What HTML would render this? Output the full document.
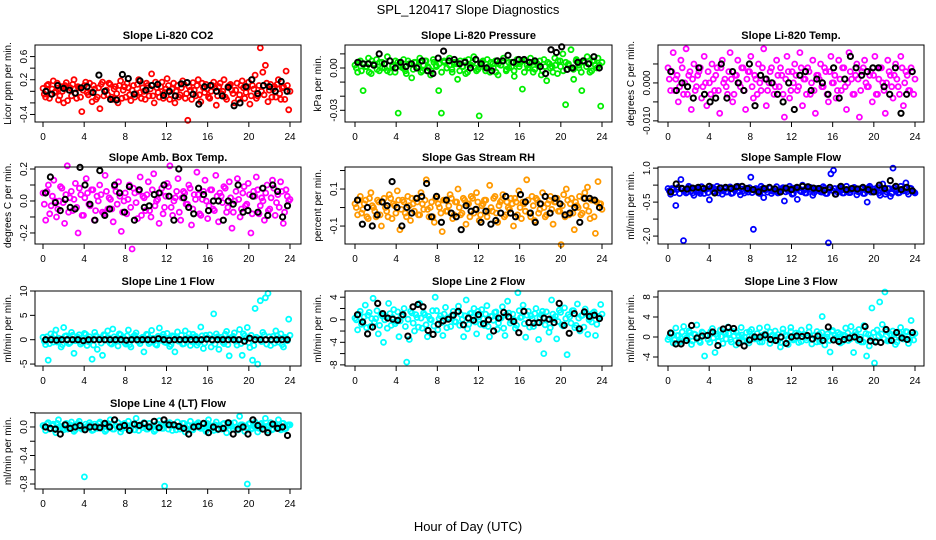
<!DOCTYPE html>
<html><head><meta charset="utf-8"><style>
html,body{margin:0;padding:0;background:#fff;}
svg{display:block;font-family:"Liberation Sans",Arial,sans-serif;}
</style></head><body>
<svg id="chart" width="936" height="540" viewBox="0 0 936 540">
<text x="468" y="14" text-anchor="middle" font-size="13">SPL_120417  Slope Diagnostics</text>
<text x="468" y="531" text-anchor="middle" font-size="13">Hour of Day (UTC)</text>
</svg>
<script>
const xTicks = [0,4,8,12,16,20,24];
const co2Vals = [0.05,-0.1,0.12,-0.05,0.18,0.0,-0.15,0.08,-0.2,0.15,0.02,-0.08,0.2,-0.12,0.06,-0.35,0.1,-0.02,0.14,-0.18,0.04,-0.1,-0.3,0.16,0.0,-0.06,0.12,-0.14,0.08,-0.2,0.18,0.02,-0.1,0.06,-0.16,0.1,-0.04,0.2,-0.12,0.0,0.14,-0.08,0.3,-0.2,0.06,-0.1,0.16,-0.02,0.22,-0.14,0.04,-0.2,0.1,-0.06,0.18,-0.12,-0.5,0.02,0.15,-0.08,0.2,-0.18,0.06,0.12,-0.1,0.0,0.16,-0.24,0.08,-0.04,0.2,-0.14,0.1,0.02,-0.2,0.14,-0.06,0.18,-0.12,0.06,-0.22,0.1,0.28,-0.08,0.75,0.33,0.45,-0.18,0.12,0.04,-0.1,0.2,-0.14,0.08,0.35,-0.32];
const co2Vals2 = [-0.05,0.1,-0.12,0.04,-0.02,0.14,-0.08,0.0,0.1,-0.16,0.06,0.12,-0.04,0.08,-0.1,0.02,0.16,-0.06,-0.02,0.1,-0.14,0.06,0.12,-0.08,0.02,0.14,-0.1,0.04,-0.04,0.1,-0.12,0.08,0.14,-0.06,0.02,-0.1,0.12,-0.02,0.06,-0.14,0.1,0.04,-0.08,0.16,-0.02,0.08,-0.12,0.04,0.1,-0.06,0.14,0.0,-0.1,0.06,0.12,-0.04,0.08,-0.14,0.02,0.1,-0.06,0.14,-0.02,0.04,-0.12,0.1,0.06,-0.08,0.14,0.0,-0.1,0.08,0.12,-0.04,0.02,-0.14,0.1,0.06,-0.02,0.16,-0.08,0.04,-0.12,0.1,0.0,-0.06,0.14,0.02,-0.1,0.08,0.12,-0.04,0.06,-0.14,0.1,0.0];
const co2Ref = [0.0,-0.05,0.1,0.05,0.02,-0.03,0.06,0.08,-0.02,0.28,0.0,-0.14,-0.15,0.29,0.22,-0.05,0.18,0.02,0.1,0.12,-0.07,0.0,-0.08,0.13,0.15,-0.05,-0.22,0.08,0.1,0.0,-0.08,0.07,-0.25,-0.2,0.08,0.2,-0.04,0.1,0.08,0.0,0.17,0.0];
const presVals = [0.002,-0.003,0.005,-0.016,0.001,0.007,-0.004,0.003,0.006,-0.002,0.004,0.0,0.008,-0.003,0.002,0.005,-0.032,0.001,0.006,-0.004,0.003,-0.007,0.004,0.0,0.007,-0.002,0.005,0.001,-0.005,0.006,0.002,-0.016,-0.032,0.004,0.0,0.007,-0.003,0.003,-0.008,0.005,0.001,-0.004,0.006,0.002,0.008,-0.002,-0.034,0.004,0.0,0.006,-0.003,0.003,0.005,-0.005,0.002,0.007,-0.002,0.004,0.001,-0.006,0.006,0.003,-0.015,0.005,0.0,0.007,-0.003,0.004,0.002,-0.005,0.006,-0.009,0.003,0.001,0.007,-0.004,0.005,0.01,-0.026,0.002,0.013,-0.008,0.006,0.0,-0.016,0.004,0.008,-0.003,0.005,0.002,0.007,-0.027];
const presVals2 = [0.0,0.004,-0.002,0.003,0.001,-0.003,0.005,0.002,-0.001,0.004,0.0,0.003,-0.002,0.005,0.001,-0.003,0.004,0.002,0.0,-0.002,0.005,0.003,-0.001,0.004,0.001,-0.003,0.002,0.005,0.0,-0.002,0.004,0.001,0.003,-0.003,0.005,0.0,0.002,-0.001,0.004,0.003,-0.002,0.001,0.005,-0.003,0.002,0.004,0.0,-0.001,0.003,0.005,-0.002,0.001,0.004,0.0,-0.003,0.003,0.002,0.005,-0.001,0.0,0.004,-0.002,0.003,0.001,0.005,-0.003,0.002,0.0,0.004,-0.001,0.003,0.005,-0.002,0.001,0.004,0.0,-0.003,0.002,0.005,0.001,-0.002,0.004,0.003,0.0,-0.001,0.005,0.002,-0.003,0.004,0.001,0.003,-0.002,0.005,0.0,0.002,0.004];
const presRef = [0.004,0.003,0.003,0.002,0.01,0.003,0.005,0.0,0.004,0.001,0.003,0.0,0.005,-0.002,-0.004,0.007,0.012,0.005,0.006,0.003,0.004,0.0,0.006,0.003,0.0,-0.002,0.005,0.005,0.009,0.004,0.006,0.006,0.004,0.005,0.001,-0.004,0.013,0.011,0.015,-0.001,0.0,0.004,0.005,0.003,0.008,0.0];
const tempVals = [0.004,-0.002,0.008,0.001,-0.005,0.006,-0.003,0.009,0.002,-0.007,0.005,-0.001,0.003,-0.004,0.007,-0.006,0.0,0.005,-0.002,0.004,-0.008,0.006,0.001,-0.003,0.008,-0.005,0.002,0.006,-0.001,0.004,-0.007,0.003,0.007,-0.004,0.001,0.005,-0.002,0.009,-0.006,0.0,0.004,-0.003,0.006,-0.001,0.002,-0.009,0.007,-0.004,0.003,0.005,-0.002,0.008,-0.006,0.001,0.004,-0.003,0.006,-0.008,0.002,0.005,-0.001,0.003,-0.005,0.007,0.0,-0.004,0.006,-0.002,0.004,-0.007,0.008,0.001,-0.003,0.005,-0.009,0.003,0.006,-0.001,0.002,-0.005,0.007,-0.003,0.004,0.0,-0.008,0.006,0.002,-0.004,0.005,-0.001,0.007,-0.006,0.003,-0.002,0.004,-0.003];
const tempVals2 = [0.001,0.003,-0.002,0.002,-0.001,0.004,0.0,-0.003,0.003,0.001,-0.002,0.002,0.004,-0.001,0.0,0.003,-0.003,0.001,0.002,-0.002,0.004,0.0,-0.001,0.003,0.001,-0.003,0.002,0.0,0.004,-0.002,0.001,0.003,-0.001,0.002,-0.003,0.0,0.004,0.001,-0.002,0.003,0.0,-0.001,0.002,0.004,-0.003,0.001,0.003,-0.002,0.0,0.002,-0.001,0.004,0.001,-0.003,0.003,0.0,-0.002,0.002,0.001,-0.001,0.004,-0.003,0.003,0.0,0.002,-0.002,0.001,0.004,-0.001,0.0,0.003,-0.003,0.002,0.001,-0.002,0.004,0.0,-0.001,0.003,0.002,-0.003,0.001,0.004,-0.002,0.0,0.003,-0.001,0.002,0.001,-0.003,0.004,0.0,0.002,-0.002,0.003,0.001];
const tempRef = [0.003,-0.002,0.0,-0.001,-0.004,0.004,-0.003,-0.005,-0.004,0.005,-0.004,0.003,0.0,-0.002,0.005,-0.006,0.002,0.001,0.0,-0.003,-0.005,0.0,-0.007,0.002,0.003,-0.002,0.001,0.0,-0.003,0.004,-0.004,0.001,0.007,0.004,0.002,0.003,0.004,0.004,-0.001,-0.003,0.004,-0.008,-0.003,0.003];
const boxVals = [0.05,-0.12,0.1,-0.03,0.13,-0.1,0.0,0.08,-0.14,0.22,0.02,-0.06,0.11,-0.2,0.04,-0.09,0.14,-0.02,0.07,-0.12,0.03,0.1,-0.07,0.16,-0.05,0.01,-0.13,0.06,0.12,-0.19,0.0,-0.08,0.1,-0.3,0.05,-0.11,0.15,0.03,-0.06,0.12,-0.1,0.17,0.0,-0.14,0.08,-0.04,0.11,0.22,-0.09,0.02,0.14,-0.12,0.06,-0.02,0.1,-0.15,0.04,0.18,-0.08,0.01,0.13,-0.11,0.07,-0.05,0.16,-0.13,0.03,0.09,-0.07,0.12,-0.17,0.0,0.14,-0.1,0.05,-0.03,0.11,-0.2,0.06,0.15,-0.08,0.02,-0.12,0.1,-0.05,0.13,-0.09,0.04,0.12,-0.14,0.07,0.0];
const boxVals2 = [-0.02,0.06,-0.08,0.03,0.0,-0.05,0.09,-0.01,0.04,-0.07,0.06,0.01,-0.04,0.08,-0.09,0.02,0.05,-0.03,0.07,-0.06,0.0,0.04,-0.08,0.06,0.02,-0.05,0.09,-0.02,0.03,-0.07,0.05,0.01,-0.04,0.08,-0.01,0.06,-0.09,0.02,0.04,-0.06,0.07,-0.03,0.01,0.05,-0.08,0.03,0.09,-0.04,0.0,0.06,-0.07,0.02,0.05,-0.02,0.08,-0.05,0.01,0.04,-0.09,0.06,0.0,-0.03,0.07,-0.06,0.03,0.05,-0.01,0.08,-0.04,0.02,-0.07,0.06,0.01,-0.05,0.09,-0.02,0.04,-0.08,0.03,0.07,-0.03,0.0,0.05,-0.06,0.02,0.08,-0.01,-0.04,0.06,-0.07,0.03,0.01];
const boxRef = [0.05,0.15,-0.01,-0.06,0.01,-0.04,-0.05,0.21,0.1,-0.02,-0.12,0.19,-0.09,-0.05,0.1,0.05,-0.07,0.09,-0.12,0.07,-0.04,-0.03,0.04,0.05,0.1,0.03,-0.12,0.2,0.02,-0.04,-0.08,0.08,0.04,-0.06,0.0,0.0,-0.12,0.0,-0.02,0.1,-0.07,-0.06,0.03,-0.07,0.08,-0.09,0.1,0.06,-0.1,-0.03];
const rhVals = [0.02,-0.04,0.06,-0.01,0.04,-0.06,0.08,0.0,-0.05,0.03,-0.1,0.05,-0.02,0.07,-0.06,0.01,0.09,-0.12,0.04,-0.03,0.06,-0.07,0.02,0.05,-0.04,0.08,-0.01,0.15,-0.05,0.03,-0.08,0.06,0.0,-0.13,0.04,-0.02,0.07,-0.06,0.03,0.1,-0.04,0.05,-0.09,0.02,0.06,-0.03,0.08,-0.07,0.01,0.04,-0.05,0.12,-0.02,0.06,-0.08,0.03,0.07,-0.04,0.0,0.05,-0.1,0.03,0.09,-0.06,0.02,0.15,-0.03,0.06,-0.07,0.04,-0.01,0.08,-0.05,0.02,0.06,-0.09,0.03,-0.02,-0.2,0.07,0.1,-0.04,0.05,-0.12,0.01,0.06,-0.03,0.08,0.11,-0.06,0.04,-0.14,0.14,0.02];
const rhVals2 = [0.0,0.04,-0.03,0.02,-0.05,0.05,0.01,-0.02,0.04,-0.04,0.03,0.0,-0.05,0.05,0.02,-0.03,0.04,-0.01,0.03,-0.05,0.01,0.05,-0.02,0.03,-0.04,0.02,0.04,-0.01,0.0,-0.05,0.05,0.02,-0.03,0.04,-0.02,0.01,0.05,-0.04,0.03,0.0,-0.03,0.04,0.02,-0.05,0.05,-0.01,0.03,-0.04,0.02,0.04,-0.02,0.0,0.05,-0.03,0.01,0.04,-0.05,0.03,-0.01,0.02,0.05,-0.04,0.0,0.03,-0.02,0.04,-0.05,0.01,0.05,-0.03,0.02,0.0,-0.04,0.04,-0.01,0.03,0.05,-0.02,0.01,-0.05,0.04,0.02,-0.03,0.03,0.0,-0.04,0.05,0.01,-0.02,0.04,-0.05,0.03,0.02,-0.01];
const rhRef = [0.04,-0.09,0.0,-0.1,-0.04,0.03,0.01,0.14,0.0,-0.1,0.0,-0.03,0.05,0.06,0.13,-0.05,0.06,-0.08,0.04,-0.03,-0.05,-0.12,0.01,-0.02,-0.01,-0.08,-0.02,-0.09,-0.07,-0.03,0.06,-0.03,-0.05,0.07,0.03,-0.03,-0.08,0.02,0.06,-0.03,0.05,0.02,-0.04,-0.03,0.0,-0.08,0.05,0.05,0.04,0.0];
const flowVals = [0.1,-0.15,0.05,-0.65,0.15,0.5,-2.2,-0.1,0.2,0.0,-0.2,0.12,-0.05,0.18,-0.12,0.08,-0.4,0.15,-0.08,0.2,0.02,-0.15,0.1,-0.05,0.17,-0.1,0.05,0.2,-0.18,0.0,0.12,-0.06,0.6,-1.7,0.1,-0.1,0.2,-0.3,0.05,0.15,-0.12,0.0,0.18,-0.08,0.1,-0.45,0.05,0.2,-0.15,0.12,-0.38,0.0,0.25,-0.1,0.08,0.15,-0.2,0.05,0.1,-0.05,0.18,-0.12,-2.3,0.75,0.9,-0.15,0.12,0.02,-0.1,0.2,-0.08,0.05,0.15,-0.18,0.0,0.1,-0.12,-0.5,0.2,-0.05,0.08,0.15,-0.2,0.3,-0.15,0.1,-0.25,1.0,0.05,-0.1,0.2,0.0,0.35,-0.15,0.1,-0.05];
const flowVals2 = [0.0,0.1,-0.08,0.05,-0.12,0.12,0.02,-0.05,0.15,-0.1,0.08,0.0,-0.12,0.1,0.05,-0.08,0.12,-0.02,0.06,-0.1,0.14,0.0,-0.06,0.1,-0.12,0.05,0.12,-0.04,0.08,-0.1,0.02,0.14,-0.08,0.06,0.0,-0.12,0.1,0.04,-0.06,0.12,-0.02,0.08,-0.1,0.05,0.14,-0.05,0.0,0.1,-0.12,0.06,0.12,-0.04,0.02,-0.1,0.14,0.05,-0.08,0.1,0.0,-0.06,0.12,-0.12,0.06,0.02,0.1,-0.05,0.14,-0.1,0.04,0.0,-0.08,0.12,0.06,-0.04,0.1,-0.12,0.02,0.14,-0.06,0.08,0.0,-0.1,0.12,0.05,-0.05,0.1,-0.12,0.14,0.02,-0.08,0.06,0.1,-0.04,0.12,0.0,-0.1];
const flowRef = [-0.05,0.3,0.1,0.08,0.12,0.15,0.1,0.2,-0.1,0.12,0.15,0.1,0.18,0.2,0.1,0.05,-0.05,0.1,0.15,0.08,-0.05,0.12,0.05,0.15,0.2,0.18,0.12,0.1,0.02,0.15,-0.15,0.2,0.05,0.1,0.08,0.15,0.05,-0.05,0.25,0.1,0.45,0.2,0.05,0.15,0.0];
const line1Vals = [0.5,-1,-4.2,1.2,-0.5,2,0.3,-1.5,2.5,0.8,-0.8,1.5,-2.8,0.2,1,-0.6,1.3,-1.2,0.6,-4,1.5,-2,0.4,-3.2,0.9,1.8,-0.7,2.2,0.1,-1.3,1,0.5,-0.9,2,-1.5,0.7,1.4,-0.4,0.3,-2.5,1.1,-0.8,1.9,0.2,-1.1,2.4,0.6,-0.5,1.3,-1.4,0.8,-2.5,1.6,0,-0.9,1.8,0.4,-1.2,1.1,0.7,-0.6,2.6,-1.8,0.9,0.3,-1.5,5.3,1.2,-2,0.5,-0.8,1.7,-3.3,0.2,1.4,-1.1,2.1,-3.2,0.8,2.5,-1.6,-4.2,6.4,-5,8,1.5,8.6,9.5,-1.2,0.7,1.8,-0.5,1.2,-1.5,0.3,4.2];
const line1Vals2 = [-0.3,0.6,-0.8,0.4,1.0,-0.5,0.2,-1.0,0.7,0.0,-0.6,0.9,-0.2,0.5,-0.9,0.3,1.1,-0.4,0.0,-1.1,0.8,0.2,-0.7,1.0,-0.1,0.4,-0.9,0.6,-0.3,1.2,0.1,-0.6,0.8,-1.0,0.3,0.9,-0.2,-0.8,0.5,0.0,1.0,-0.5,0.3,-0.9,0.7,-0.1,1.1,-0.6,0.2,-1.0,0.6,0.4,-0.3,0.9,-0.8,0.1,1.2,-0.4,0.5,-1.1,0.0,0.8,-0.7,0.3,1.0,-0.2,-0.9,0.6,0.1,-0.5,1.1,-1.0,0.4,0.7,-0.3,0.0,-0.8,1.2,0.3,-0.6,0.9,-1.2,0.5,0.2,-0.4,1.0,-0.9,0.6,0.0,-0.7,0.8,0.3,-1.0,0.5,-0.2,0.9];
const line1Ref = [0,0,-0.1,0,0,0,0,-0.2,0,0,0,0,0,0,0,-0.1,0,0,0,0,0,0.2,0,-0.1,0,0,0,0,0,0,0.1,0,0,0,0,0,0,-0.3,0.3,0,0,0,0,0,0,0];
const line2Vals = [0.3,-1.8,1.5,-0.5,2.6,0.8,-1.2,3.8,0.2,-2.5,1,-4,0.5,2.9,-1,1.8,-0.3,-3,0.6,2,-7.5,-3.5,1.2,-2,0.4,2.9,-1.5,0.9,-3,0.1,1.6,4,-1.8,0.7,-2.8,2.2,0.3,-1.2,1.5,-0.4,2.4,0.9,-3,3.5,-0.8,1.2,2,-2.5,0.5,1.8,-1,2.5,-3,0.6,1.3,-1.7,0.2,2.3,-2.8,3.3,-0.6,1,-1.5,4.8,0.4,2.6,-3.1,1.5,0.7,-1.2,2,-3.5,0.9,-6,1.4,-2.2,3.5,0.1,-3.4,1.7,-0.9,2.1,-6.2,0.5,1.6,-1.4,2.8,-2,0.8,1.9,-2.6,0.3,1.2,-2.8,0.6,2.7];
const line2Vals2 = [0.0,1.0,-0.8,0.5,-1.4,1.3,0.2,-0.4,1.6,-1.0,0.7,0.0,-1.5,1.1,0.4,-0.7,1.4,-0.2,0.8,-1.2,0.1,1.5,-0.6,0.9,-1.3,0.3,1.2,-0.9,0.6,0.0,-1.1,1.6,0.2,-0.5,1.0,-1.4,0.4,0.8,-0.3,1.3,-1.0,0.1,0.7,-1.6,1.1,0.5,-0.4,1.5,-0.8,0.2,1.0,-1.2,0.6,-0.1,1.4,-0.6,0.3,-1.5,0.9,1.2,-0.2,0.0,-1.0,1.6,0.5,-0.7,0.8,-1.3,0.2,1.1,-0.5,0.4,1.5,-0.9,0.0,-1.4,1.0,0.6,-0.3,1.3,-1.1,0.2,0.9,-0.6,1.6,-1.0,0.3,0.7,-1.3,1.2,0.0,-0.4,1.4,-0.8,0.5,1.0];
const line2Ref = [0.9,-0.4,-2.5,-1.3,2.9,1.1,0.3,0.1,-0.1,0.9,-2.9,2.3,2.7,2.3,-1.9,-2.6,-0.8,-0.2,0.1,0.8,1.5,-0.9,0.3,-0.1,0.9,-0.7,0,-2,0.3,1.3,0.5,-0.3,-2.3,1.5,-0.5,-0.6,-0.5,0.3,0.1,-0.5,2.9,-1,-2.4,1.1,-1.6,1.4,0.6,0.8,0.2];
const line3Vals = [-0.5,0.8,-1.2,1.8,0.3,-0.9,2.1,-0.2,1.2,-1.5,0.6,2.4,-0.8,1,-3.8,0.4,-1.1,1.7,-3.1,0.2,1.4,-1.3,0.7,2,-0.5,1.1,-1.6,0.3,1.9,-0.7,0.9,-1.2,1.5,0.1,-0.4,1.8,-1,0.6,2,-1.3,0.4,1.2,-0.8,-2,1.6,0.2,-1.5,1.9,-0.3,0.8,-1.1,1.4,0.5,-0.6,2,-1.4,0.3,1.1,-0.9,4.1,-1.6,0.6,-3,1.3,-0.2,0.9,-1.2,0.4,1.8,-0.7,2.1,-3.1,0.5,1.5,-1,2.3,-3.8,-1.8,5.8,-5.2,1.4,7,2.5,9,-0.8,0.6,1.2,-1.5,0.3,1.9,-0.4,1.1,-1.3,3.3,-0.6];
const line3Vals2 = [0.0,0.7,-0.6,0.3,-1.0,1.0,0.2,-0.3,0.9,-0.8,0.5,0.0,-1.1,0.8,0.3,-0.5,1.1,-0.2,0.6,-0.9,0.1,1.0,-0.4,0.7,-1.0,0.2,0.9,-0.7,0.4,0.0,-0.8,1.1,0.2,-0.4,0.7,-1.0,0.3,0.6,-0.2,1.0,-0.7,0.1,0.5,-1.1,0.8,0.4,-0.3,1.1,-0.6,0.2,0.7,-0.9,0.5,-0.1,1.0,-0.5,0.3,-1.0,0.6,0.9,-0.2,0.0,-0.7,1.1,0.4,-0.5,0.6,-0.9,0.2,0.8,-0.4,0.3,1.0,-0.7,0.0,-1.0,0.7,0.5,-0.2,0.9,-0.8,0.2,0.6,-0.4,1.1,-0.7,0.3,0.5,-1.0,0.8,0.0,-0.3,1.0,-0.6,0.4,0.7];
const line3Ref = [0.8,-1.4,-1.4,-0.7,2.3,-0.2,0.2,0.3,1,-1.7,1.6,1.9,1.7,-1.2,-1.8,-0.6,0,0,0.4,-0.5,-0.7,0,-1.3,0,0.2,0.1,0.3,-0.4,0.2,-0.7,2,-0.6,-0.9,-0.5,-0.2,0,-0.5,2.1,-0.8,-1,-1.1,1.5,-0.7,0.9,-0.2,-0.5,0.9];
const line4Vals = [0.02,-0.05,0.06,-0.02,0.04,-0.08,0.1,0.0,-0.04,0.05,-0.01,0.07,-0.06,0.03,0.08,-0.03,-0.7,0.01,0.06,-0.05,0.04,-0.02,0.07,0.0,-0.06,0.05,0.1,-0.03,0.02,0.06,-0.07,0.04,-0.01,0.08,-0.04,0.03,0.12,-0.05,0.02,0.06,-0.03,0.05,0.0,-0.06,0.04,0.09,-0.02,-0.83,0.03,0.06,-0.05,0.01,0.07,-0.03,0.05,-0.07,0.02,0.08,-0.04,0.03,0.06,-0.02,0.04,-0.06,0.1,0.0,-0.05,0.07,0.02,-0.03,0.05,-0.08,0.04,0.01,0.06,-0.04,0.15,0.03,-0.06,-0.8,0.05,-0.02,0.07,-0.07,0.04,0.01,0.12,-0.05,0.06,-0.03,0.02,0.1,-0.04,0.05,-0.02,0.03];
const line4Vals2 = [0.0,0.04,-0.03,0.02,-0.04,0.05,0.01,-0.02,0.04,-0.03,0.03,0.0,-0.04,0.05,0.02,-0.02,0.04,-0.01,0.03,-0.04,0.01,0.05,-0.02,0.03,-0.04,0.02,0.04,-0.03,0.01,0.0,-0.03,0.05,0.02,-0.02,0.04,-0.04,0.01,0.03,-0.01,0.05,-0.03,0.0,0.02,-0.04,0.04,0.01,-0.02,0.05,-0.03,0.02,0.03,-0.04,0.01,0.0,0.05,-0.02,0.02,-0.04,0.03,0.04,-0.01,0.0,-0.03,0.05,0.02,-0.02,0.03,-0.04,0.01,0.04,-0.02,0.02,0.05,-0.03,0.0,-0.04,0.03,0.02,-0.01,0.04,-0.03,0.01,0.03,-0.02,0.05,-0.03,0.01,0.02,-0.04,0.04,0.0,-0.02,0.05,-0.03,0.02,0.03];
const line4Ref = [0,-0.02,-0.03,-0.1,0.03,-0.02,0,0.02,-0.04,0,0,-0.01,0.05,0,0.1,0,0.02,-0.05,0.04,0.02,0.05,0,0.08,-0.01,0.1,0.03,0.03,0.01,-0.02,-0.1,0,0.01,0.05,-0.08,0,-0.03,-0.02,0.06,-0.1,-0.03,0,-0.1,0.1,0.02,-0.03,-0.08,0.04,-0.02,0,-0.12];

const co2Ticks=[-0.4,-0.2,0,0.2,0.4,0.6], co2Labels=["-0.4","0.2","0.6"];
const presTicks=[-0.03,-0.02,-0.01,0,0.01], presLabels=["-0.03","0.00"];
const tempTicks=[-0.01,-0.005,0,0.005], tempLabels=["-0.010","0.000"];
const boxTicks=[-0.2,-0.1,0,0.1,0.2], boxLabels=["-0.2","0.0","0.2"];
const rhTicks=[-0.1,0,0.1,0.2], rhLabels=["-0.1","0.1"];
const flowTicks=[-2,-1.25,-0.5,0.25,1], flowLabels=["-2.0","-0.5","1.0"];
const l1Ticks=[-5,0,5,10], l1Labels=["-5","0","5","10"];
const l2Ticks=[-8,-6,-4,-2,0,2,4], l2Labels=["-8","-4","0","4"];
const l3Ticks=[-4,0,4,8], l3Labels=["-4","0","4","8"];
const l4Ticks=[-0.8,-0.6,-0.4,-0.2,0,0.2], l4Labels=["-0.8","-0.4","0.0"];

const cols=[{bx:35,bw:266,x0:43,x1:290},{bx:345,bw:267,x0:355,x1:602},{bx:658,bw:266,x0:668,x1:915}];
const rows=[{top:45,bot:122},{top:167,bot:244},{top:291,bot:366},{top:413,bot:489}];
const panels=[
 {name:'co2',title:'Slope Li-820 CO2',ylab:'Licor ppm per min.',c:0,r:0,vals:co2Vals,vals2:co2Vals2,ref:co2Ref,ticks:co2Ticks,labels:co2Labels,ymin:-0.53,ymax:0.8,color:'#ff0000'},
 {name:'pressure',title:'Slope Li-820 Pressure',ylab:'kPa per min.',c:1,r:0,vals:presVals,vals2:presVals2,ref:presRef,ticks:presTicks,labels:presLabels,ymin:-0.0383,ymax:0.0163,color:'#00ee00'},
 {name:'temp',title:'Slope Li-820 Temp.',ylab:'degrees C per min.',c:2,r:0,vals:tempVals,vals2:tempVals2,ref:tempRef,ticks:tempTicks,labels:tempLabels,ymin:-0.0103,ymax:0.01,color:'#ff00ff'},
 {name:'box-temp',title:'Slope Amb. Box Temp.',ylab:'degrees C per min.',c:0,r:1,vals:boxVals,vals2:boxVals2,ref:boxRef,ticks:boxTicks,labels:boxLabels,ymin:-0.269,ymax:0.2125,color:'#ff00ff'},
 {name:'rh',title:'Slope Gas Stream RH',ylab:'percent per min.',c:1,r:1,vals:rhVals,vals2:rhVals2,ref:rhRef,ticks:rhTicks,labels:rhLabels,ymin:-0.197,ymax:0.219,color:'#ff9900'},
 {name:'sample-flow',title:'Slope Sample Flow',ylab:'ml/min per min.',c:2,r:1,vals:flowVals,vals2:flowVals2,ref:flowRef,ticks:flowTicks,labels:flowLabels,ymin:-2.35,ymax:1.05,color:'#0000ff'},
 {name:'line1',title:'Slope Line 1 Flow',ylab:'ml/min per min.',c:0,r:2,vals:line1Vals,vals2:line1Vals2,ref:line1Ref,ticks:l1Ticks,labels:l1Labels,ymin:-5.4,ymax:10,color:'#00ffff'},
 {name:'line2',title:'Slope Line 2 Flow',ylab:'ml/min per min.',c:1,r:2,vals:line2Vals,vals2:line2Vals2,ref:line2Ref,ticks:l2Ticks,labels:l2Labels,ymin:-8.2,ymax:5.1,color:'#00ffff'},
 {name:'line3',title:'Slope Line 3 Flow',ylab:'ml/min per min.',c:2,r:2,vals:line3Vals,vals2:line3Vals2,ref:line3Ref,ticks:l3Ticks,labels:l3Labels,ymin:-5.8,ymax:9.2,color:'#00ffff'},
 {name:'line4',title:'Slope Line 4 (LT) Flow',ylab:'ml/min per min.',c:0,r:3,vals:line4Vals,vals2:line4Vals2,ref:line4Ref,ticks:l4Ticks,labels:l4Labels,ymin:-0.87,ymax:0.196,color:'#00ffff'}
];
const NS='http://www.w3.org/2000/svg';
const svg=document.getElementById('chart');
function mk(tag,attrs,parent){const e=document.createElementNS(NS,tag);for(const k in attrs)e.setAttribute(k,attrs[k]);parent.appendChild(e);return e;}
panels.forEach(p=>{
 const col=cols[p.c], row=rows[p.r];
 const g=mk('g',{},svg);
 
 
 const xs=h=>col.x0+(h/24)*(col.x1-col.x0);
 const ys=v=>row.bot-(v-p.ymin)/(p.ymax-p.ymin)*(row.bot-row.top);
 const t=mk('text',{x:(col.bx+col.bw/2),y:row.top-6,'text-anchor':'middle','font-size':'11','font-weight':'bold'},g);
 t.textContent=p.title;
 
 
 const pts=mk('g',{fill:'none',stroke:p.color,'stroke-width':'1.8'},g);
 
 
 [p.vals,p.vals2].forEach((arr,k)=>{
  const n=arr.length;
  arr.forEach((v,i)=>{
   const c=mk('circle',{cx:xs((i+k*0.5)*24/(n-0.5)).toFixed(1),cy:ys(v).toFixed(1),r:'2.5'},pts);
   
   
  });
 });
 const refg=mk('g',{fill:'none',stroke:'#000','stroke-width':'2'},g);
 
 
 const m=p.ref.length;
 p.ref.forEach((v,i)=>{
  const c=mk('circle',{cx:xs((i+0.5)*24/m).toFixed(1),cy:ys(v).toFixed(1),r:'2.6'},refg);
  
  
 });
 const box=mk('rect',{x:col.bx,y:row.top,width:col.bw,height:row.bot-row.top,fill:'none',stroke:'#000','stroke-width':'1'},g);
 
 
 const ax=mk('g',{stroke:'#000','stroke-width':'1'},g);
 
 
 mk('line',{x1:xs(0),x2:xs(24),y1:row.bot,y2:row.bot},ax);
 xTicks.forEach(h=>{
  mk('line',{x1:xs(h),x2:xs(h),y1:row.bot,y2:row.bot+5},ax);
  const tl=mk('text',{x:xs(h),y:row.bot+18,'text-anchor':'middle','font-size':'10',stroke:'none',fill:'#000'},ax);
  tl.textContent=String(h);
  
  
 });
 const ay=mk('g',{stroke:'#000','stroke-width':'1'},g);
 
 
 mk('line',{x1:col.bx,x2:col.bx,y1:ys(p.ticks[0]),y2:ys(p.ticks[p.ticks.length-1])},ay);
 p.ticks.forEach(v=>{mk('line',{x1:col.bx-5,x2:col.bx,y1:ys(v),y2:ys(v)},ay);});
 p.labels.forEach(s=>{
  const y=ys(parseFloat(s)), x=col.bx-8;
  const tl=mk('text',{x:x,y:y,'text-anchor':'middle','font-size':'10',stroke:'none',fill:'#000',transform:`rotate(-90 ${x} ${y})`},ay);
  tl.textContent=s;
  
  
 });
 const yx=col.bx-24, yy=(row.top+row.bot)/2;
 const yt=mk('text',{x:yx,y:yy,'text-anchor':'middle','font-size':'10',transform:`rotate(-90 ${yx} ${yy})`},g);
 yt.textContent=p.ylab;
 
 
});
</script>
</body></html>
